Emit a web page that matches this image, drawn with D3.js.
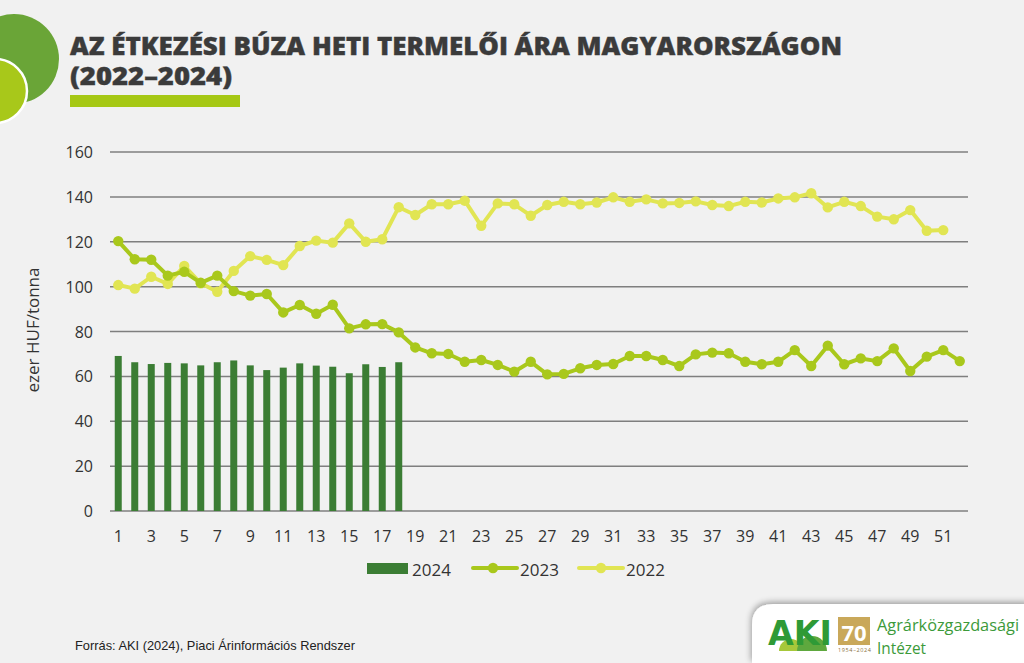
<!DOCTYPE html>
<html><head><meta charset="utf-8">
<script src="https://cdn.jsdelivr.net/npm/d3@7"></script>
<style>
html,body{margin:0;padding:0;background:#f1f1f1;}
svg{display:block;}
</style></head>
<body>
<svg id="c" width="1024" height="663"></svg>
<script>
const weeks = d3.range(1, 53);
const tickLabels = d3.range(1, 53, 2);
const yTicks = [0, 20, 40, 60, 80, 100, 120, 140, 160];
const values2024 = [69.1, 66.3, 65.5, 66.0, 65.8, 64.9, 66.3, 67.1, 64.9, 62.8, 63.9, 65.8, 64.8, 64.3, 61.4, 65.4, 64.2, 66.3];
const values2023 = [120.3, 112.2, 112.0, 104.9, 106.6, 101.7, 104.9, 98.0, 96.0, 96.7, 88.5, 91.8, 87.9, 91.9, 81.4, 83.2, 83.3, 79.6, 72.9, 70.3, 70.0, 66.5, 67.3, 65.1, 62.1, 66.5, 60.9, 61.1, 63.6, 65.1, 65.5, 69.1, 69.1, 67.3, 64.6, 69.8, 70.6, 70.3, 66.5, 65.4, 66.5, 71.7, 64.6, 73.7, 65.4, 68.0, 66.8, 72.5, 62.4, 68.8, 71.7, 66.8];
const values2022 = [100.7, 99.1, 104.4, 101.2, 109.2, 101.5, 97.7, 107.0, 113.6, 111.9, 109.6, 118.1, 120.5, 119.6, 128.2, 120.0, 121.1, 135.4, 131.9, 136.7, 136.7, 138.3, 127.1, 137.1, 136.7, 131.6, 136.4, 137.8, 136.7, 137.5, 139.8, 137.8, 138.9, 137.1, 137.3, 138.0, 136.4, 135.9, 137.8, 137.5, 139.3, 139.8, 141.6, 135.3, 137.8, 135.9, 131.2, 130.0, 134.1, 124.9, 125.2];
const seriesNames = ["2024", "2023", "2022"];
const colors = {"2024": "#3b7d34", "2023": "#a9c81c", "2022": "#e1e553"};

const svg = d3.select("#c");
const font = "'Open Sans', 'DejaVu Sans', sans-serif";

// decorative circles top-left
svg.append("circle").attr("cx", 14).attr("cy", 59).attr("r", 45).attr("fill", "#6aa537");
svg.append("circle").attr("cx", -5).attr("cy", 91).attr("r", 32).attr("fill", "#a8c81a").attr("stroke", "#ffffff").attr("stroke-width", 2.5);

// title
svg.append("text").attr("x", 70).attr("y", 55).attr("font-family", font).attr("font-weight", 800)
  .attr("font-size", 24).attr("fill", "#3b3b3b").attr("stroke", "#3b3b3b").attr("stroke-width", 0.4)
  .attr("textLength", 772).attr("lengthAdjust", "spacingAndGlyphs")
  .text("AZ ÉTKEZÉSI BÚZA HETI TERMELŐI ÁRA MAGYARORSZÁGON");
svg.append("text").attr("x", 70).attr("y", 85).attr("font-family", font).attr("font-weight", 800)
  .attr("font-size", 24).attr("fill", "#3b3b3b").attr("stroke", "#3b3b3b").attr("stroke-width", 0.4)
  .attr("textLength", 162).attr("lengthAdjust", "spacingAndGlyphs")
  .text("(2022–2024)");
svg.append("rect").attr("x", 70).attr("y", 95).attr("width", 170).attr("height", 12).attr("fill", "#a6c814");

// scales
const x = d3.scaleBand().domain(weeks).range([110, 968]).padding(0);
const y = d3.scaleLinear().domain([0, 160]).range([511, 152]);
const cx = w => x(w) + x.bandwidth() / 2;

// grid
const grid = svg.append("g");
grid.selectAll("line").data(yTicks).join("line")
  .attr("x1", 110).attr("x2", 968).attr("y1", d => y(d)).attr("y2", d => y(d))
  .attr("stroke", "#7f7f7f").attr("stroke-width", 1.5);

// y axis labels
const yAxis = svg.append("g").attr("transform", "translate(93,0)")
  .call(d3.axisLeft(y).tickValues(yTicks).tickSize(0).tickPadding(0));
yAxis.select(".domain").remove();
yAxis.selectAll("text").attr("font-family", font).attr("font-size", 16).attr("fill", "#333").attr("dy", "0.35em");

// x axis labels
const xAxis = svg.append("g").attr("transform", "translate(0,528)")
  .call(d3.axisBottom(x).tickValues(tickLabels).tickSize(0).tickPadding(0));
xAxis.select(".domain").remove();
xAxis.selectAll("text").attr("font-family", font).attr("font-size", 16).attr("fill", "#333").attr("dy", "0.85em");

// y label
svg.append("text").attr("transform", "translate(39,330) rotate(-90)").attr("text-anchor", "middle")
  .attr("font-family", font).attr("font-size", 17).attr("fill", "#333").text("ezer HUF/tonna");

// bars 2024
const bw = 7;
svg.append("g").selectAll("rect").data(values2024).join("rect")
  .attr("x", (d, i) => cx(weeks[i]) - bw / 2).attr("width", bw)
  .attr("y", d => y(d)).attr("height", d => y(0) - y(d)).attr("fill", colors["2024"]);

// lines
function drawLine(vals, col) {
  const data = vals.map((v, i) => ({w: weeks[i], v}));
  const g = svg.append("g");
  g.append("path").datum(data).attr("fill", "none").attr("stroke", col).attr("stroke-width", 4)
    .attr("stroke-linejoin", "round")
    .attr("d", d3.line().x(d => cx(d.w)).y(d => y(d.v)));
  g.selectAll("circle").data(data).join("circle")
    .attr("cx", d => cx(d.w)).attr("cy", d => y(d.v)).attr("r", 5.2).attr("fill", col);
}
drawLine(values2022, colors["2022"]);
drawLine(values2023, colors["2023"]);

// legend
const lg = svg.append("g");
lg.append("rect").attr("x", 367).attr("y", 563).attr("width", 41).attr("height", 11).attr("fill", colors["2024"]);
lg.append("text").attr("x", 412).attr("y", 576).attr("font-family", font).attr("font-size", 17).attr("fill", "#333").text(seriesNames[0]);
lg.append("line").attr("x1", 473).attr("x2", 517).attr("y1", 568).attr("y2", 568).attr("stroke", colors["2023"]).attr("stroke-width", 4).attr("stroke-linecap", "round");
lg.append("circle").attr("cx", 493).attr("cy", 568).attr("r", 5.2).attr("fill", colors["2023"]);
lg.append("text").attr("x", 520).attr("y", 576).attr("font-family", font).attr("font-size", 17).attr("fill", "#333").text(seriesNames[1]);
lg.append("line").attr("x1", 579).attr("x2", 623).attr("y1", 568).attr("y2", 568).attr("stroke", colors["2022"]).attr("stroke-width", 4).attr("stroke-linecap", "round");
lg.append("circle").attr("cx", 601).attr("cy", 568).attr("r", 5.2).attr("fill", colors["2022"]);
lg.append("text").attr("x", 626).attr("y", 576).attr("font-family", font).attr("font-size", 17).attr("fill", "#333").text(seriesNames[2]);

// footer
svg.append("text").attr("x", 75).attr("y", 650).attr("font-family", "'Liberation Sans', Arial, sans-serif")
  .attr("font-size", 13).attr("fill", "#222").attr("textLength", 280).attr("lengthAdjust", "spacingAndGlyphs")
  .text("Forrás: AKI (2024), Piaci Árinformációs Rendszer");

// logo panel
const defs = svg.append("defs");
const f = defs.append("filter").attr("id", "sh").attr("x", "-20%").attr("y", "-40%").attr("width", "140%").attr("height", "180%");
f.append("feGaussianBlur").attr("in", "SourceAlpha").attr("stdDeviation", 3);
f.append("feOffset").attr("dx", -1).attr("dy", -2).attr("result", "ob");
f.append("feComponentTransfer").append("feFuncA").attr("type", "linear").attr("slope", 0.35);
const fm = f.append("feMerge"); fm.append("feMergeNode"); fm.append("feMergeNode").attr("in", "SourceGraphic");
svg.append("path").attr("d", "M752,663 L752,625 Q752,604 773,604 L1030,604 L1030,663 Z")
  .attr("fill", "#ffffff").attr("filter", "url(#sh)");
// AKI logo
svg.append("circle").attr("cx", 791).attr("cy", 651).attr("r", 12).attr("fill", "#a7c83a");
svg.append("circle").attr("cx", 812).attr("cy", 651).attr("r", 15).attr("fill", "#5ea83e");
svg.append("rect").attr("x", 770).attr("y", 651).attr("width", 62).attr("height", 12).attr("fill", "#ffffff");
svg.append("text").attr("x", 768).attr("y", 645).attr("font-family", "'DejaVu Sans', sans-serif").attr("font-weight", 900)
  .attr("font-size", 34).attr("fill", "#2f9a36").attr("textLength", 64).attr("lengthAdjust", "spacingAndGlyphs").text("AKI");
// 70 emblem
svg.append("rect").attr("x", 838).attr("y", 617).attr("width", 32).attr("height", 28).attr("fill", "#c9a85a");
svg.append("text").attr("x", 854).attr("y", 641).attr("text-anchor", "middle").attr("font-family", font).attr("font-weight", 700)
  .attr("font-size", 22).attr("fill", "#ffffff").text("70");
svg.append("text").attr("x", 838).attr("y", 652).attr("font-family", font).attr("font-size", 5.5).attr("fill", "#8a7040")
  .attr("textLength", 33).text("1954–2024");
svg.append("text").attr("x", 877).attr("y", 631).attr("font-family", font).attr("font-size", 16).attr("fill", "#3c9a3a")
  .attr("textLength", 142).attr("lengthAdjust", "spacingAndGlyphs").text("Agrárközgazdasági");
svg.append("text").attr("x", 877).attr("y", 654).attr("font-family", font).attr("font-size", 16).attr("fill", "#3c9a3a")
  .attr("textLength", 49).attr("lengthAdjust", "spacingAndGlyphs").text("Intézet");
</script>
</body></html>
